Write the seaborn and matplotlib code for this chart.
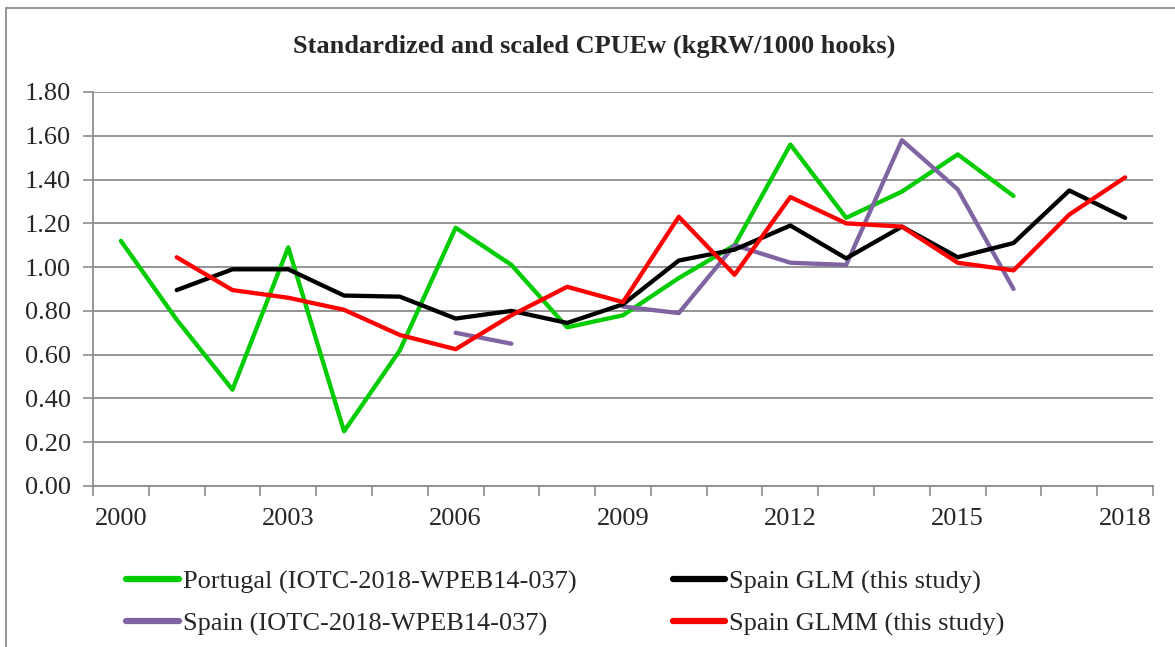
import numpy as np
import pandas as pd
import matplotlib
matplotlib.use("Agg")
import matplotlib.pyplot as plt
import seaborn as sns
from matplotlib.lines import Line2D

# Data
years = list(range(2000, 2019))
portugal = [1.12, 0.76, 0.44, 1.09, 0.25, 0.62, 1.18, 1.01, 0.725, 0.78,
            0.95, 1.10, 1.56, 1.225, 1.345, 1.515, 1.325, np.nan, np.nan]
spain_iotc = [np.nan, np.nan, np.nan, np.nan, np.nan, np.nan, 0.70, 0.65, np.nan, 0.82,
              0.79, 1.10, 1.02, 1.01, 1.58, 1.355, 0.90, np.nan, np.nan]
spain_glm = [np.nan, 0.895, 0.99, 0.99, 0.87, 0.865, 0.765, 0.80, 0.745, 0.83,
             1.03, 1.08, 1.19, 1.04, 1.185, 1.045, 1.11, 1.35, 1.225]
spain_glmm = [np.nan, 1.045, 0.895, 0.86, 0.805, 0.69, 0.625, 0.78, 0.91, 0.84,
              1.23, 0.965, 1.32, 1.20, 1.185, 1.02, 0.985, 1.24, 1.41]

labels = ["Portugal (IOTC-2018-WPEB14-037)", "Spain (IOTC-2018-WPEB14-037)",
          "Spain GLM (this study)", "Spain GLMM (this study)"]
series = [portugal, spain_iotc, spain_glm, spain_glmm]
colors = ["#00CC00", "#8064A2", "#000000", "#FF0000"]

sns.set_style("white")
plt.rcParams['font.family'] = ['Liberation Serif', 'DejaVu Serif']

fig = plt.figure(figsize=(11.75, 6.47), dpi=100)
ax = fig.add_axes([93 / 1175, 1 - 486 / 647, (1153 - 93) / 1175, (486 - 92) / 647])

grid_col = "#8C8C8C"
handles = []
for vals, lab, col in zip(series, labels, colors):
    df = pd.DataFrame({"year": years, "value": vals})
    # split into runs so gaps stay broken
    ok = df["value"].notna()
    run = (~ok).cumsum()
    for _, seg in df[ok].groupby(run[ok]):
        sns.lineplot(data=seg, x="year", y="value", color=col, linewidth=3.1,
                     estimator=None, ax=ax, legend=False)
    handles.append(Line2D([0], [0], color=col, linewidth=4.5, solid_capstyle='round'))

ax.set_xlim(1999.5, 2018.5)
ax.set_ylim(0, 1.8)
ax.set_yticks(np.arange(0, 1.81, 0.2))
ax.set_yticklabels([f"{v:.2f}" for v in np.arange(0, 1.81, 0.2)], fontsize=19)
ax.yaxis.grid(True, color=grid_col, linewidth=1.3)
ax.xaxis.grid(False)

# category boundary tick marks, labels every 3 years
ax.set_xticks(np.arange(1999.5, 2018.6, 1))
ax.set_xticklabels([])
ax.set_xticks(years[::3], minor=True)
ax.set_xticklabels([str(y) for y in years[::3]], minor=True, fontsize=19)
ax.tick_params(axis='x', which='major', direction='out', length=7, width=1.2,
               color=grid_col, bottom=True)
ax.tick_params(axis='x', which='minor', length=0, pad=16, bottom=True)
ax.tick_params(axis='y', direction='out', length=7, width=1.2, color=grid_col,
               left=True, pad=9)
ax.set_xlabel("")
ax.set_ylabel("")

for side in ["top", "right"]:
    ax.spines[side].set_visible(False)
for side in ["left", "bottom"]:
    ax.spines[side].set_color(grid_col)
    ax.spines[side].set_linewidth(1.3)

fig.text(594 / 1175, 1 - 46 / 647, "Standardized and scaled CPUEw (kgRW/1000 hooks)",
         ha='center', va='center', fontsize=19, fontweight='bold')

fig.legend(handles, labels, ncol=2, loc='center left',
           bbox_to_anchor=(126 / 1175, 1 - 603 / 647), frameon=False,
           fontsize=19, handlelength=2.0, handletextpad=0.15,
           columnspacing=3.65, labelspacing=0.68, borderpad=0, borderaxespad=0)

# chart area border (top and left visible)
fig.add_artist(Line2D([6 / 1175, 6 / 1175], [0, 1 - 8 / 647], transform=fig.transFigure,
                      color=grid_col, linewidth=1.3))
fig.add_artist(Line2D([6 / 1175, 1], [1 - 8 / 647, 1 - 8 / 647], transform=fig.transFigure,
                      color=grid_col, linewidth=1.3))

fig.savefig("out.png", dpi=100)
